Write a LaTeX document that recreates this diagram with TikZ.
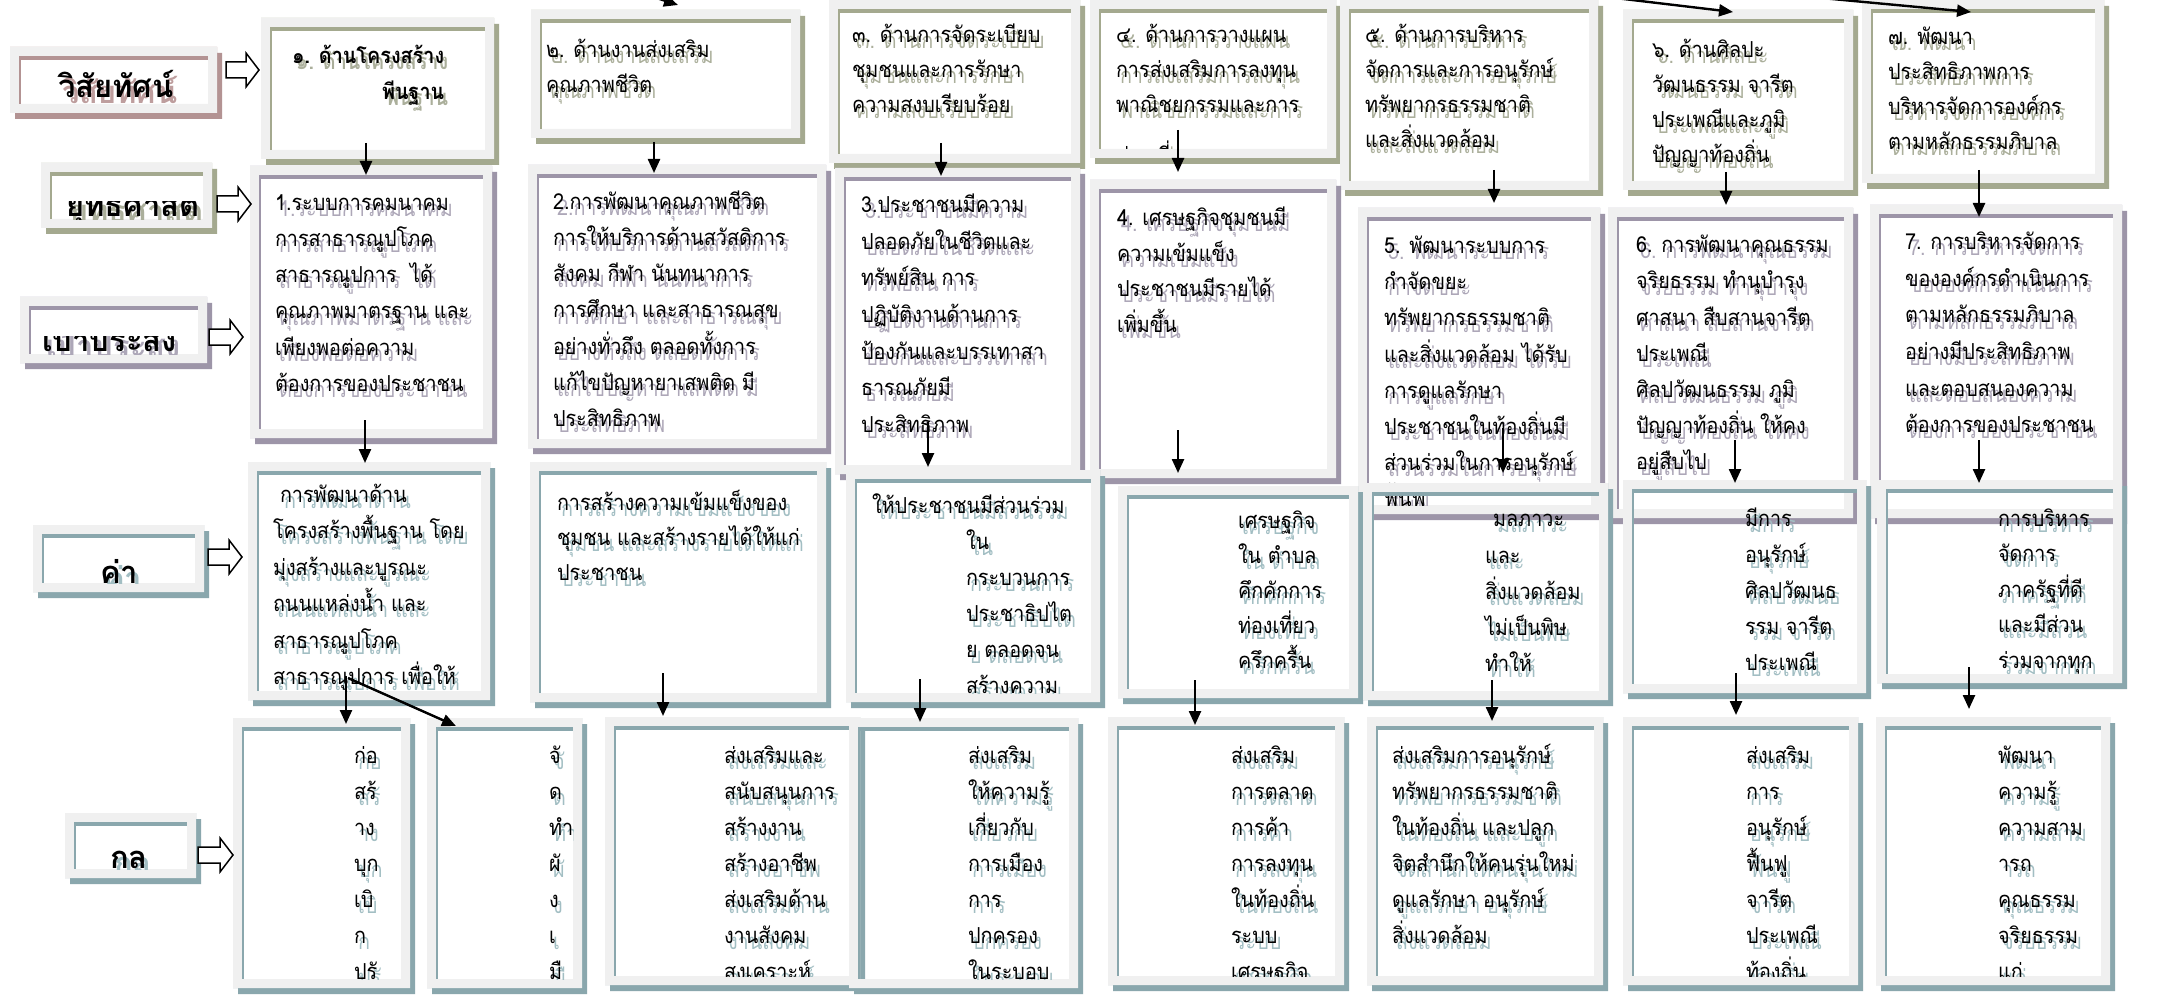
\documentclass[tikz,border=0pt]{standalone}
\usepackage{fontspec}
\newfontfamily\thai[Script=Thai,FakeStretch=0.9]{Loma}
\newfontfamily\thaiw[Script=Thai]{Loma}
\usetikzlibrary{fit,calc,arrows.meta}
\definecolor{framegray}{HTML}{F0F0F0}
\definecolor{olv}{HTML}{A4A98F}
\definecolor{prp}{HTML}{9D95A8}
\definecolor{tea}{HTML}{8AA7AD}
\definecolor{brn}{HTML}{B39393}
\definecolor{olvt}{HTML}{ABAF9B}
\definecolor{prpt}{HTML}{ADA7B8}
\definecolor{teat}{HTML}{A2BEC3}
\definecolor{brnt}{HTML}{BE9E9E}
\tikzset{
 tx/.style={anchor=base west, inner sep=0pt, outer sep=0pt, font=\thai\fontsize{22}{24}\selectfont},
 txb/.style={anchor=base west, inner sep=0pt, outer sep=0pt, font=\thai\bfseries\fontsize{22}{24}\selectfont},
 lbl/.style={anchor=base west, inner sep=0pt, outer sep=0pt, font=\thaiw\bfseries\fontsize{31}{34}\selectfont},
 arr/.style={line width=2.4pt, -{Triangle[length=14pt,width=12pt]}},
 barrow/.style={draw=black, line width=1.5pt, fill=white, line join=miter},
}
% box: name, x1, y1, x2, y2, colour
\newcommand\dbox[6]{%
 \fill[#6, even odd rule] (#2+5,#3+6) rectangle (#4+5,#5+6) (#2,#3) rectangle (#4,#5);
 \fill[framegray, even odd rule] (#2,#3) rectangle (#4,#5) (#2+9,#3+9) rectangle (#4-9,#5-9);
 \fill[#6] (#2+9,#3+9) rectangle (#4-9,#3+13);
 \fill[#6] (#2+9,#3+9) rectangle (#2+11,#5-9);
 \coordinate (#1-nw) at (#2,#3); \coordinate (#1-se) at (#4,#5);
 \node[fit=(#1-nw)(#1-se), inner sep=0pt, outer sep=0pt] (#1) {};
}
% text lines with shadow: name, style, x, first baseline, line step, shadow colour, lines
\newcommand\btext[7]{%
 \foreach \ln [count=\i] in {#7} {
  \node[#2, text=#6] (#1-s\i) at (#3+4, #4+6+\i*#5-#5) {\ln};
  \node[#2] (#1-t\i) at (#3, #4+\i*#5-#5) {\ln};
 }}
\newcommand\cliptext[1]{\clip ($(#1.north west)+(11,13)$) rectangle ($(#1.south east)+(-9,-9)$);}
\newcommand\blockarr[2]{\draw[barrow] (#1) ++(0,-8) -- ++(#2-13,0) -- ++(0,-9) -- ++(13,17) -- ++(-13,17) -- ++(0,-9) -- ++(13-#2,0) -- cycle;}
\begin{document}
\begin{tikzpicture}[x=1pt,y=-1pt]
\useasboundingbox (0,0) rectangle (2179,1000);
\fill[white] (0,0) rectangle (2179,1000);

% ---------- label column ----------
\dbox{lab1}{10}{47}{217}{113}{brn}
\begin{scope}\cliptext{lab1}\btext{L1}{lbl}{58}{98}{0}{brnt}{วิสัยทัศน์}\end{scope}
\dbox{lab2}{41}{163}{212}{228}{olv}
\begin{scope}\clip ($(lab2.north west)+(11,39)$) rectangle ($(lab2.south east)+(-9,-8)$);
\btext{L2}{lbl}{66}{217}{0}{olvt}{ยุทธศาสต}\end{scope}
\dbox{lab3}{20}{297}{207}{363}{prp}
\begin{scope}\clip ($(lab3.north west)+(11,39)$) rectangle ($(lab3.south east)+(-9,-9)$);
\btext{L3}{lbl}{42}{351}{0}{prpt}{เป้าประสง}\end{scope}
\dbox{lab4}{33}{525}{204}{592}{tea}
\begin{scope}\cliptext{lab4}\btext{L4}{lbl}{100}{583}{0}{teat}{ค่า}\end{scope}
\dbox{lab5}{65}{813}{196}{878}{tea}
\begin{scope}\cliptext{lab5}\btext{L5}{lbl}{110}{868}{0}{teat}{กล}\end{scope}

% ---------- row 1 ----------
\dbox{A1}{261}{18}{494}{159}{olv}
\begin{scope}\cliptext{A1}
\btext{A1a}{txb}{292}{64}{35}{olvt}{๑. ด้านโครงสร้าง}
\btext{A1b}{txb}{382}{100}{35}{olvt}{พีนฐาน}\end{scope}
\dbox{A2}{531}{10}{800}{138}{olv}
\begin{scope}\cliptext{A2}\btext{A2}{tx}{546}{58}{35}{olvt}{๒. ด้านงานส่งเสริม, คุณภาพชีวิต}\end{scope}
\dbox{A3}{829}{0}{1080}{163}{olv}
\begin{scope}\cliptext{A3}\btext{A3}{tx}{852}{43}{35}{olvt}{๓. ด้านการจัดระเบียบ, ชุมชนและการรักษา, ความสงบเรียบร้อย}\end{scope}
\dbox{A4}{1090}{0}{1336}{158}{olv}
\begin{scope}\cliptext{A4}\btext{A4}{tx}{1116}{43}{35}{olvt}{๔. ด้านการวางแผน, การส่งเสริมการลงทุน, พาณิชยกรรมและการ}
\btext{A4b}{tx}{1116}{164}{35}{olvt}{ท่องเที่ยว}\end{scope}
\dbox{A5}{1340}{0}{1598}{190}{olv}
\begin{scope}\cliptext{A5}\btext{A5}{tx}{1365}{43}{35}{olvt}{๕. ด้านการบริหาร, จัดการและการอนุรักษ์, ทรัพยากรธรรมชาติ, และสิ่งแวดล้อม}\end{scope}
\dbox{A6}{1623}{10}{1853}{190}{olv}
\begin{scope}\cliptext{A6}\btext{A6}{tx}{1652}{58}{35}{olvt}{๖. ด้านศิลปะ, วัฒนธรรม จารีต, ประเพณีและภูมิ, ปัญญาท้องถิ่น}\end{scope}
\dbox{A7}{1862}{0}{2104}{183}{olv}
\begin{scope}\cliptext{A7}\btext{A7}{tx}{1888}{45}{35}{olvt}{๗. พัฒนา, ประสิทธิภาพการ, บริหารจัดการองค์กร, ตามหลักธรรมภิบาล}\end{scope}

% ---------- row 2 ----------
\dbox{B1}{250}{166}{492}{438}{prp}
\begin{scope}\cliptext{B1}\btext{B1}{tx}{275}{211}{36}{prpt}{1.ระบบการคมนาคม, การสาธารณูปโภค, สาธารณูปการ~ ได้, คุณภาพมาตรฐาน และ, เพียงพอต่อความ, ต้องการของประชาชน}\end{scope}
\dbox{B2}{528}{165}{826}{448}{prp}
\begin{scope}\cliptext{B2}\btext{B2}{tx}{553}{210}{36}{prpt}{2.การพัฒนาคุณภาพชีวิต, การให้บริการด้านสวัสดิการ, สังคม กีฬา นันทนาการ, การศึกษา และสาธารณสุข, อย่างทั่วถึง ตลอดทั้งการ, แก้ไขปัญหายาเสพติด มี, ประสิทธิภาพ}\end{scope}
\dbox{B3}{835}{168}{1080}{474}{prp}
\begin{scope}\cliptext{B3}\btext{B3}{tx}{861}{213}{36.5}{prpt}{3.ประชาชนมีความ, ปลอดภัยในชีวิตและ, ทรัพย์สิน การ, ปฏิบัติงานด้านการ, ป้องกันและบรรเทาสา, ธารณภัยมี, ประสิทธิภาพ}\end{scope}
\dbox{B4}{1090}{180}{1336}{478}{prp}
\begin{scope}\cliptext{B4}\btext{B4}{tx}{1117}{226}{35.5}{prpt}{4. เศรษฐกิจชุมชนมี, ความเข้มแข็ง, ประชาชนมีรายได้, เพิ่มขึ้น}\end{scope}
\dbox{B5}{1358}{208}{1600}{514}{prp}
\begin{scope}\cliptext{B5}\btext{B5}{tx}{1384}{254}{36}{prpt}{5. พัฒนาระบบการ, กำจัดขยะ, ทรัพยากรธรรมชาติ, และสิ่งแวดล้อม ได้รับ, การดูแลรักษา, ประชาชนในท้องถิ่นมี, ส่วนร่วมในการอนุรักษ์, ฟื้นฟู}\end{scope}
\dbox{B6}{1608}{208}{1853}{518}{prp}
\begin{scope}\cliptext{B6}\btext{B6}{tx}{1636}{253}{36}{prpt}{6. การพัฒนาคุณธรรม, จริยธรรม ทำนุบำรุง, ศาสนา สืบสานจารีต, ประเพณี, ศิลปวัฒนธรรม ภูมิ, ปัญญาท้องถิ่น ให้คง, อยู่สืบไป}\end{scope}
\dbox{B7}{1870}{205}{2122}{518}{prp}
\begin{scope}\cliptext{B7}\btext{B7}{tx}{1905}{250}{36.5}{prpt}{7. การบริหารจัดการ, ขององค์กรดำเนินการ, ตามหลักธรรมภิบาล, อย่างมีประสิทธิภาพ, และตอบสนองความ, ต้องการของประชาชน}\end{scope}

% ---------- row 3 ----------
\dbox{C1}{248}{462}{490}{700}{tea}
\begin{scope}\cliptext{C1}\btext{C1}{tx}{273}{502}{36.5}{teat}{\hspace*{7pt}การพัฒนาด้าน, โครงสร้างพื้นฐาน โดย, มุ่งสร้างและบูรณะ, ถนนแหล่งน้ำ และ, สาธารณูปโภค, สาธารณูปการ เพื่อให้}\end{scope}
\dbox{C2}{530}{462}{826}{702}{tea}
\begin{scope}\cliptext{C2}\btext{C2}{tx}{557}{510}{35}{teat}{การสร้างความเข้มแข็งของ, ชุมชน และสร้างรายได้ให้แก่, ประชาชน}\end{scope}
\dbox{C3}{846}{470}{1100}{702}{tea}
\begin{scope}\cliptext{C3}\btext{C3a}{tx}{872}{513}{36}{teat}{ให้ประชาชนมีส่วนร่วม}
\btext{C3b}{tx}{966}{549}{36}{teat}{ใน, กระบวนการ, ประชาธิปไต, ย ตลอดจน, สร้างความ}\end{scope}
\dbox{C4}{1118}{486}{1358}{698}{tea}
\begin{scope}\cliptext{C4}\btext{C4}{tx}{1238}{528}{35}{teat}{เศรษฐกิจ, ใน ตำบล, คึกคักการ, ท่องเที่ยว, ครึกครื้น}\end{scope}
\dbox{C5}{1363}{483}{1608}{700}{tea}
\begin{scope}\cliptext{C5}\btext{C5a}{tx}{1493}{526}{36}{teat}{มลภาวะ}
\btext{C5b}{tx}{1485}{563}{36}{teat}{และ, สิ่งแวดล้อม, ไม่เป็นพิษ, ทำให้}\end{scope}
\dbox{C6}{1623}{480}{1866}{693}{tea}
\begin{scope}\cliptext{C6}\btext{C6}{tx}{1745}{526}{36}{teat}{มีการ, อนุรักษ์, ศิลปวัฒนธ, รรม จารีต, ประเพณี}\end{scope}
\dbox{C7}{1877}{480}{2122}{683}{tea}
\begin{scope}\cliptext{C7}\btext{C7}{tx}{1998}{526}{35.5}{teat}{การบริหาร, จัดการ, ภาครัฐที่ดี, และมีส่วน, ร่วมจากทุก}\end{scope}

% ---------- row 4 ----------
\dbox{D1}{233}{718}{410}{988}{tea}
\begin{scope}\cliptext{D1}\btext{D1}{tx}{354}{763}{36}{teat}{ก่อ, สร้, าง, บุก, เบิ, ก, ปรั}\end{scope}
\dbox{D2}{427}{718}{582}{988}{tea}
\begin{scope}\cliptext{D2}\btext{D2}{tx}{549}{763}{36}{teat}{จั, ด, ทำ, ผั, ง, เ, มื}\end{scope}
\dbox{D3}{605}{717}{860}{985}{tea}
\begin{scope}\cliptext{D3}\btext{D3}{tx}{724}{763}{36}{teat}{ส่งเสริมและ, สนับสนุนการ, สร้างงาน, สร้างอาชีพ, ส่งเสริมด้าน, งานสังคม, สงเคราะห์}\end{scope}
\dbox{D4}{849}{718}{1078}{988}{tea}
\begin{scope}\cliptext{D4}\btext{D4}{tx}{968}{763}{36}{teat}{ส่งเสริม, ให้ความรู้, เกี่ยวกับ, การเมือง, การ, ปกครอง, ในระบอบ}\end{scope}
\dbox{D5}{1108}{717}{1344}{985}{tea}
\begin{scope}\cliptext{D5}\btext{D5}{tx}{1231}{763}{36}{teat}{ส่งเสริม, การตลาด, การค้า, การลงทุน, ในท้องถิ่น, ระบบ, เศรษฐกิจ}\end{scope}
\dbox{D6}{1367}{717}{1603}{985}{tea}
\begin{scope}\cliptext{D6}\btext{D6}{tx}{1392}{763}{36}{teat}{ส่งเสริมการอนุรักษ์, ทรัพยากรธรรมชาติ, ในท้องถิ่น และปลูก, จิตสำนึกให้คนรุ่นใหม่, ดูแลรักษา อนุรักษ์, สิ่งแวดล้อม}\end{scope}
\dbox{D7}{1623}{717}{1858}{985}{tea}
\begin{scope}\cliptext{D7}\btext{D7}{tx}{1746}{763}{36}{teat}{ส่งเสริม, การ, อนุรักษ์, ฟื้นฟู, จารีต, ประเพณี, ท้องถิ่น}\end{scope}
\dbox{D8}{1876}{717}{2110}{985}{tea}
\begin{scope}\cliptext{D8}\btext{D8}{tx}{1998}{763}{36}{teat}{พัฒนา, ความรู้, ความสาม, ารถ, คุณธรรม, จริยธรรม, แก่}\end{scope}

% ---------- block arrows ----------
\blockarr{[xshift=9pt,yshift=10pt]lab1.east}{33}
\blockarr{[xshift=5pt,yshift=-8.5pt]lab2.east}{34}
\blockarr{[xshift=2pt,yshift=-7pt]lab3.east}{34}
\blockarr{[xshift=4pt,yshift=1.5pt]lab4.east}{34}
\blockarr{[xshift=2pt,yshift=-9.5pt]lab5.east}{35}

% ---------- arrows ----------
\coordinate (in1) at (620,-14);
\coordinate (in2) at (1590,-5);
\coordinate (in3) at (1800,-4);
\draw[arr] (in1) -- ([xshift=12.5pt,yshift=5pt]A2.north);
\draw[arr] (in2) -- ([xshift=-5pt,yshift=-2pt]A6.north);
\draw[arr] (in3) -- ([xshift=-12pt,yshift=-12pt]A7.north);

\draw[arr] ([xshift=-11.5pt,yshift=16pt]A1.south) -- ([xshift=-5pt,yshift=-9pt]B1.north);
\draw[arr] ([xshift=-11.5pt,yshift=-4pt]A2.south) -- ([xshift=-23pt,yshift=-8pt]B2.north);
\draw[arr] ([xshift=-13.5pt,yshift=20pt]A3.south) -- ([xshift=-16.5pt,yshift=-8pt]B3.north);
\draw[arr] ([xshift=-35pt,yshift=28pt]A4.south) -- ([xshift=-35pt,yshift=8pt]B4.north);
\draw[arr] ([xshift=25pt,yshift=20pt]A5.south) -- ([xshift=15pt,yshift=5pt]B5.north);
\draw[arr] ([xshift=-12pt,yshift=18pt]A6.south) -- ([xshift=-4.5pt,yshift=3pt]B6.north);
\draw[arr] ([xshift=-4pt,yshift=13pt]A7.south) -- ([xshift=-17pt,yshift=-12pt]B7.north);

\draw[arr] ([xshift=-6pt,yshift=18pt]B1.south) -- ([xshift=-4pt,yshift=-1pt]C1.north);
\draw[arr] ([xshift=-29.5pt,yshift=52pt]B3.south) -- ([xshift=-45pt,yshift=3pt]C3.north);
\draw[arr] ([xshift=-35pt,yshift=48pt]B4.south) -- ([xshift=-60pt,yshift=13pt]C4.north);
\draw[arr] ([xshift=24pt,yshift=86pt]B5.south) -- ([xshift=17.5pt,yshift=10pt]C5.north);
\draw[arr] ([xshift=4.5pt,yshift=78pt]B6.south) -- ([xshift=-9.5pt,yshift=-3pt]C6.north);
\draw[arr] ([xshift=-17pt,yshift=78pt]B7.south) -- ([xshift=-20.5pt,yshift=-3pt]C7.north);

\draw[arr] ([xshift=-23pt,yshift=24pt]C1.south) -- ([xshift=24.5pt,yshift=-6pt]D1.north);
\draw[arr] ([xshift=-21pt,yshift=22pt]C1.south) -- ([xshift=-48.5pt,yshift=-8pt]D2.north);
\draw[arr] ([xshift=-15pt,yshift=29pt]C2.south) -- ([xshift=-69.5pt,yshift=1pt]D3.north);
\draw[arr] ([xshift=-53pt,yshift=23pt]C3.south) -- ([xshift=-43.5pt,yshift=-4pt]D4.north);
\draw[arr] ([xshift=-43pt,yshift=18pt]C4.south) -- ([xshift=-31pt,yshift=-8pt]D5.north);
\draw[arr] ([xshift=6.5pt,yshift=20pt]C5.south) -- ([xshift=7pt,yshift=-4pt]D6.north);
\draw[arr] ([xshift=-8.5pt,yshift=20pt]C6.south) -- ([xshift=-4.5pt,yshift=2pt]D7.north);
\draw[arr] ([xshift=-30.5pt,yshift=16pt]C7.south) -- ([xshift=-24pt,yshift=8pt]D8.north);
\end{tikzpicture}
\end{document}
